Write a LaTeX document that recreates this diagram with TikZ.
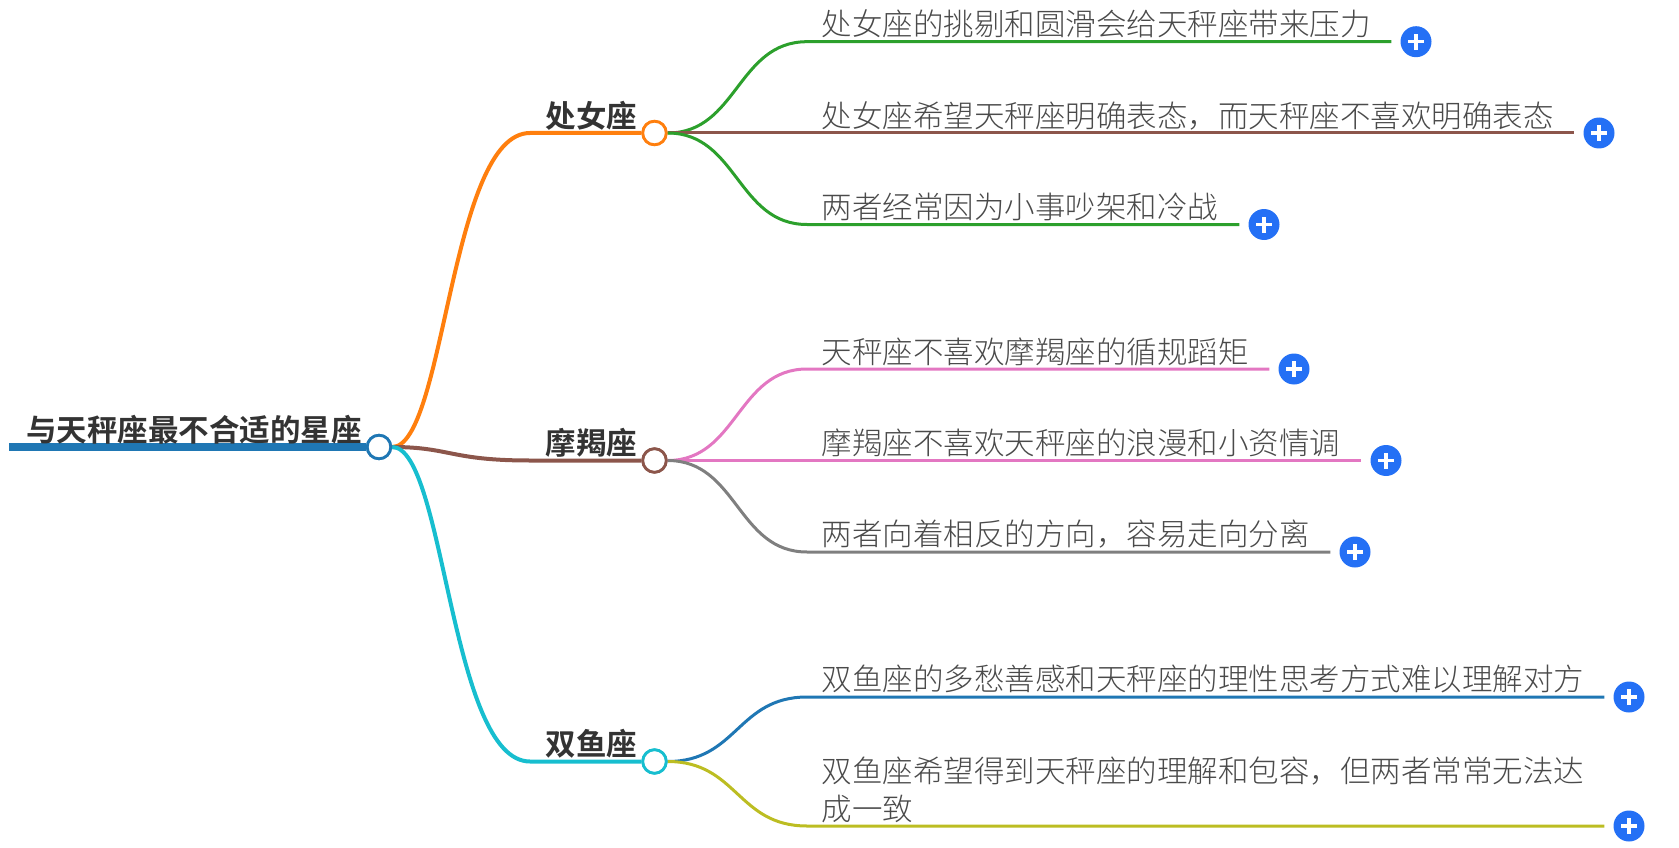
\documentclass[tikz,border=0pt]{standalone}
\usepackage{fontspec}
\setmainfont{Noto Sans CJK SC}
\newfontfamily\cjklight{Noto Sans CJK SC Light}
\newfontfamily\cjkbold{Noto Sans CJK SC Bold}
\definecolor{cblue}{HTML}{1F77B4}
\definecolor{corange}{HTML}{FF7F0E}
\definecolor{cgreen}{HTML}{2CA02C}
\definecolor{cbrown}{HTML}{8C564B}
\definecolor{cpink}{HTML}{E377C2}
\definecolor{cgray}{HTML}{7F7F7F}
\definecolor{colive}{HTML}{BCBD22}
\definecolor{ccyan}{HTML}{17BECF}
\definecolor{plusblue}{HTML}{2470F5}
\definecolor{inkdark}{HTML}{333333}
\definecolor{inklight}{HTML}{4A4A4A}
\tikzset{
  hub/.style={circle,draw=#1,fill=white,line width=2.8pt,minimum size=23.5pt,inner sep=0pt},
  plusbtn/.style={circle,fill=plusblue,minimum size=31pt,inner sep=0pt,text=white,
    path picture={\draw[white,line width=3.2pt] ([xshift=-8pt]path picture bounding box.center)--([xshift=8pt]path picture bounding box.center);
    \draw[white,line width=3.2pt] ([yshift=-8pt]path picture bounding box.center)--([yshift=8pt]path picture bounding box.center);}},
  leaf/.style={anchor=west,inner sep=0pt,text=inklight,font=\cjklight\fontsize{30.5}{37.5}\selectfont,align=left},
  topic/.style={anchor=east,inner sep=0pt,text=inkdark,font=\cjkbold\fontsize{30.5}{36}\selectfont},
  branch/.style={line width=4pt,draw=#1},
  twig/.style={line width=3pt,draw=#1}
}
\usetikzlibrary{calc}
\newcommand{\twigline}[3]{% colour, hub, plus
  \path let \p1=(#2.east),\p2=(#3.west) in
    coordinate (a) at (\x1,\y1) coordinate (b) at (807,\y2) coordinate (c) at (\x2-9pt,\y2);
  \draw[twig=#1] (#2.east) .. controls ($(a)!0.5!(b|-a)$) and ($(a|-b)!0.5!(b)$) .. (b) -- (c);
}
\begin{document}
\begin{tikzpicture}[x=1pt,y=-1pt]
\useasboundingbox (0,0) rectangle (1679,848);
% hubs
\node[hub=cblue] (root) at (379,447) {};
\node[hub=corange] (h1) at (654.5,133) {};
\node[hub=cbrown] (h2) at (654.5,460.5) {};
\node[hub=ccyan] (h3) at (654.5,761.5) {};
\coordinate (rootstart) at (9,447);
\coordinate (b1) at (530,133);
\coordinate (b2) at (530,460.5);
\coordinate (b3) at (530,761.5);
% plus buttons
\node[plusbtn] (p1) at (1416,41.7) {};
\node[plusbtn] (p2) at (1599,133) {};
\node[plusbtn] (p3) at (1264,224.5) {};
\node[plusbtn] (p4) at (1294,369) {};
\node[plusbtn] (p5) at (1386,460.5) {};
\node[plusbtn] (p6) at (1355,552) {};
\node[plusbtn] (p7) at (1629,697) {};
\node[plusbtn] (p8) at (1629,826) {};
% connectors
\draw[line width=8pt,draw=cblue] (rootstart) -- (root.west);
\draw[branch=corange] (root.east) .. controls (445,447) and (450,133) .. (b1) -- (h1.west);
\draw[branch=cbrown] (root.east) .. controls (450,447) and (450,460.5) .. (b2) -- (h2.west);
\draw[branch=ccyan] (root.east) .. controls (445,447) and (450,761.5) .. (b3) -- (h3.west);
\twigline{cgreen}{h1}{p1}
\twigline{cbrown}{h1}{p2}
\twigline{cgreen}{h1}{p3}
\twigline{cpink}{h2}{p4}
\twigline{cpink}{h2}{p5}
\twigline{cgray}{h2}{p6}
\twigline{cblue}{h3}{p7}
\twigline{colive}{h3}{p8}
\node[hub=cblue] at (root) {};
\node[hub=corange] at (h1) {};
\node[hub=cbrown] at (h2) {};
\node[hub=ccyan] at (h3) {};
% labels
\node[anchor=west,inner sep=0pt,text=inkdark,font=\cjkbold\fontsize{30.5}{36}\selectfont] (rootlabel) at (26,430) {与天秤座最不合适的星座};
\node[topic] (t1) at (637.5,115.5) {处女座};
\node[topic] (t2) at (637.5,442.5) {摩羯座};
\node[topic] (t3) at (637.5,743.5) {双鱼座};
\node[leaf] (l1) at (821.5,23.5) {处女座的挑剔和圆滑会给天秤座带来压力};
\node[leaf] (l2) at (821.5,115.5) {处女座希望天秤座明确表态，而天秤座不喜欢明确表态};
\node[leaf] (l3) at (821.5,206.5) {两者经常因为小事吵架和冷战};
\node[leaf] (l4) at (821.5,351.5) {天秤座不喜欢摩羯座的循规蹈矩};
\node[leaf] (l5) at (821.5,442.5) {摩羯座不喜欢天秤座的浪漫和小资情调};
\node[leaf] (l6) at (821.5,534) {两者向着相反的方向，容易走向分离};
\node[leaf] (l7) at (821.5,679) {双鱼座的多愁善感和天秤座的理性思考方式难以理解对方};
\node[leaf] (l8) at (821.5,790) {双鱼座希望得到天秤座的理解和包容，但两者常常无法达\\成一致};
\end{tikzpicture}
\end{document}
